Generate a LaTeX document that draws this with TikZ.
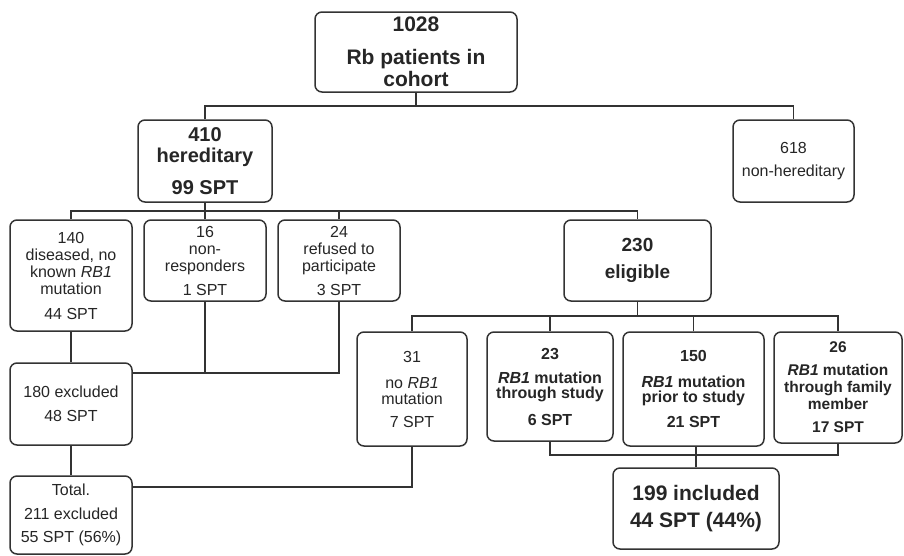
\documentclass[tikz,border=0pt]{standalone}
\usepackage{fontspec}
\setmainfont{Liberation Sans}
\begin{document}
\begin{tikzpicture}[x=1pt,y=-1pt,
  box/.style={draw=black!80, line width=1.5pt, rounded corners=7pt, fill=white, align=center, inner sep=0pt, text=black!85},
  conn/.style={draw=black!80, line width=1.4pt},
  ]
\useasboundingbox (0,0) rectangle (904,555);

\node[box, minimum width=202pt, minimum height=80pt, font=\fontsize{21}{22}\selectfont\bfseries] (top) at (416,52) {1028\\[11pt]Rb patients in\\cohort};
\node[box, minimum width=134pt, minimum height=82pt, font=\fontsize{20}{21}\selectfont\bfseries] (h410) at (205,161) {410\\hereditary\\[11pt]99 SPT};
\node[box, minimum width=121pt, minimum height=82pt, font=\fontsize{16}{23}\selectfont] (n618) at (793.5,161) {618\\non-hereditary};

\node[box, minimum width=122pt, minimum height=111pt, font=\fontsize{16}{17}\selectfont] (b140) at (71,275.5) {140\\diseased, no\\known \textit{RB1}\\mutation\\[8pt]44 SPT};
\node[box, minimum width=122pt, minimum height=81pt, font=\fontsize{16}{17}\selectfont] (b16) at (205,260.5) {16\\non-\\responders\\[7pt]1 SPT};
\node[box, minimum width=122pt, minimum height=81pt, font=\fontsize{16}{17}\selectfont] (b24) at (339,260.5) {24\\refused to\\participate\\[7pt]3 SPT};
\node[box, minimum width=147pt, minimum height=81pt, font=\fontsize{19}{27}\selectfont\bfseries] (b230) at (637.5,260.5) {230\\eligible};

\node[box, minimum width=110pt, minimum height=114pt, font=\fontsize{16}{16}\selectfont] (b31) at (412,389) {31\\[10pt]no \textit{RB1}\\mutation\\[7pt]7 SPT};
\node[box, minimum width=126pt, minimum height=109pt, font=\fontsize{16}{15}\selectfont\bfseries] (b23) at (550,386.5) {23\\[9pt]\textit{RB1} mutation\\through study\\[12pt]6 SPT};
\node[box, minimum width=141pt, minimum height=114pt, font=\fontsize{16}{15}\selectfont\bfseries] (b150) at (693.5,389) {150\\[11pt]\textit{RB1} mutation\\prior to study\\[10pt]21 SPT};
\node[box, minimum width=128pt, minimum height=111pt, font=\fontsize{15.5}{17}\selectfont\bfseries] (b26) at (838,387.5) {26\\[6pt]\textit{RB1} mutation\\through family\\member\\[6pt]17 SPT};

\node[box, minimum width=122pt, minimum height=82pt, font=\fontsize{16}{24}\selectfont] (b180) at (71,404) {180 excluded\\48 SPT};
\node[box, minimum width=122pt, minimum height=78pt, font=\fontsize{16}{23.5}\selectfont] (total) at (71,515) {Total.\\211 excluded\\55 SPT (56\%)};
\node[box, minimum width=166pt, minimum height=81pt, font=\fontsize{21}{27}\selectfont\bfseries] (b199) at (696,508.5) {199 included\\44 SPT (44\%)};

\coordinate (j1) at (0,106);
\coordinate (j2) at (0,211);
\coordinate (j3) at (0,373);
\coordinate (j4) at (0,316);
\coordinate (j5) at (0,487);
\coordinate (j6) at (0,455);

\draw[conn] (top.south) -- (top.south |- j1);
\draw[conn] (h410.north) -- (h410.north |- j1) -- (n618.north |- j1) -- (n618.north);
\draw[conn] (h410.south) -- (h410.south |- j2);
\draw[conn] (b140.north) -- (b140.north |- j2) -- (b230.north |- j2) -- (b230.north);
\draw[conn] (b16.north) -- (b16.north |- j2);
\draw[conn] (b24.north) -- (b24.north |- j2);
\draw[conn] (b140.south) -- (b180.north);
\draw[conn] (b16.south) -- (b16.south |- j3);
\draw[conn] (b180.east |- j3) -- (b24.south |- j3) -- (b24.south);
\draw[conn] (b230.south) -- (b230.south |- j4);
\draw[conn] (b31.north) -- (b31.north |- j4) -- (b26.north |- j4) -- (b26.north);
\draw[conn] (b23.north) -- (b23.north |- j4);
\draw[conn] (b150.north) -- (b150.north |- j4);
\draw[conn] (b180.south) -- (total.north);
\draw[conn] (b31.south) -- (b31.south |- j5) -- (total.east |- j5);
\draw[conn] (b23.south) -- (b23.south |- j6) -- (b26.south |- j6) -- (b26.south);
\draw[conn] (b199.north) -- (b199.north |- b150.south);
\end{tikzpicture}
\end{document}
